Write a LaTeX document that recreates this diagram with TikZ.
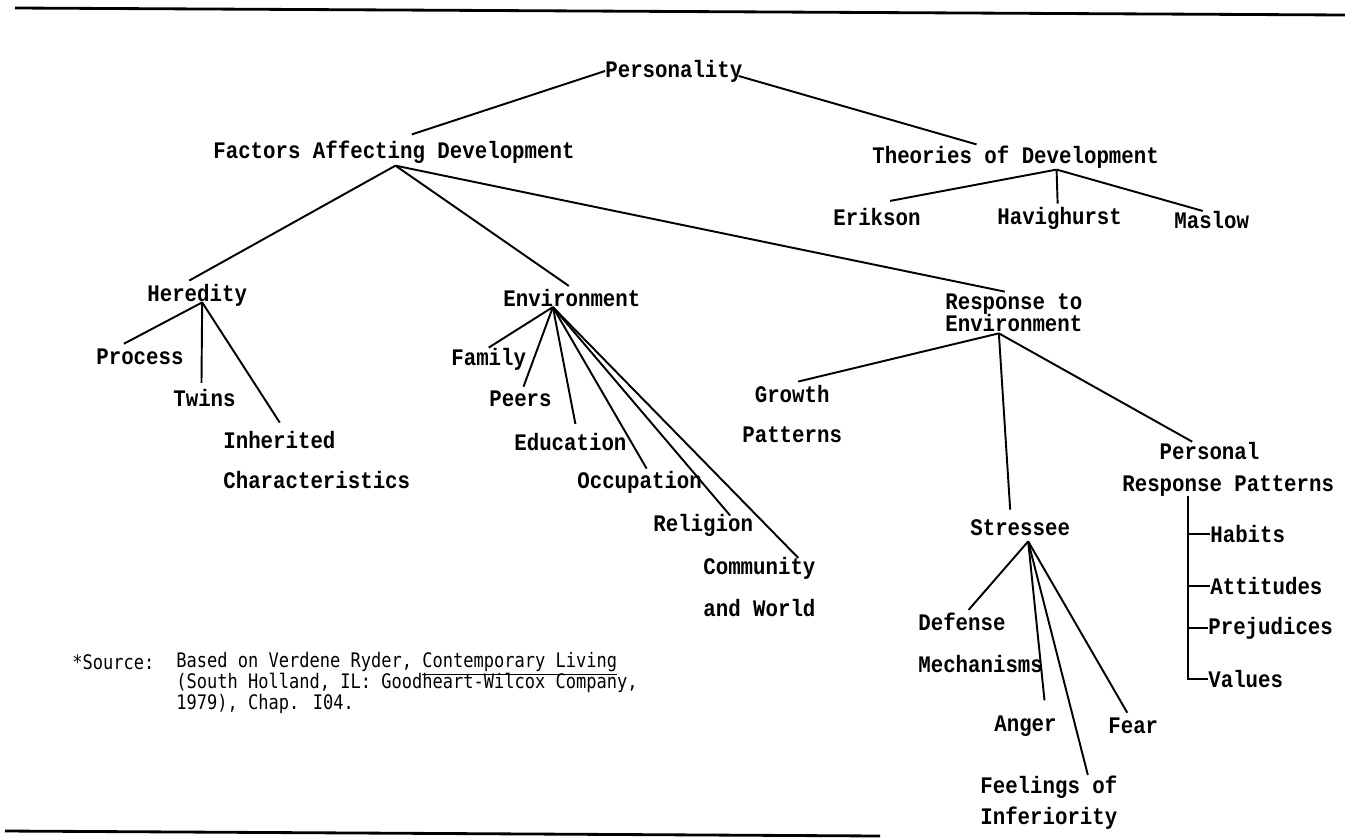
\documentclass[tikz,border=0pt]{standalone}
\usepackage{fontspec}
\usepackage{tikz}
\newfontfamily\chartfont{Liberation Mono}[FakeStretch=0.875]
\newfontfamily\notefont{DejaVu Sans Mono}[FakeStretch=0.85]

\tikzset{
    topic/.style={anchor=west, inner sep=0pt, align=left,
        font=\chartfont\bfseries\fontsize{13.5pt}{14pt}\selectfont},
    note/.style={anchor=west, inner sep=0pt, align=left,
        font=\notefont\fontsize{11.4pt}{11.8pt}\selectfont},
    branch/.style={line width=1.1pt},
    rule/.style={line width=1.6pt}
}

\begin{document}
\begin{tikzpicture}[x=0.02cm, y=-0.02cm]
    \useasboundingbox (0,0) rectangle (1345,839);
    \draw[rule] (15,8) -- (1345,15);
    \draw[rule] (5,831) -- (880,836);

    \node[topic] (pers) at (605,71) {Personality};
    \node[topic] (fac) at (213,152) {Factors Affecting Development};
    \node[topic] (theo) at (872,157) {Theories of Development};
    \node[topic] (erik) at (833,217) {Erikson};
    \node[topic] (havi) at (997,218) {Havighurst};
    \node[topic] (masl) at (1174,220) {Maslow};
    \node[topic] (hered) at (147,295) {Heredity};
    \node[topic] (env) at (503,298) {Environment};
    \node[topic] (resp) at (945,313) {Response to\\[-1.5pt]Environment};
    \node[topic] (proc) at (96,357) {Process};
    \node[topic] (twins) at (173,398) {Twins};
    \node[topic] (inher) at (223,460) {Inherited\\[9.2pt]Characteristics};
    \node[topic] (fam) at (451,359) {Family};
    \node[topic] (peers) at (489,399) {Peers};
    \node[topic] (edu) at (514,442) {Education};
    \node[topic] (occ) at (577,482) {Occupation};
    \node[topic] (rel) at (653,525) {Religion};
    \node[topic] (comm) at (703,587) {Community\\[9.8pt]and World};
    \node[topic, align=center] (growth) at (742,414) {Growth\\[9.2pt]Patterns};
    \node[topic] (pres) at (1122,469) {\phantom{Res}Personal\\[4.1pt]Response Patterns};
    \node[topic] (stress) at (970,528) {Stressee};
    \node[topic] (def) at (918,643) {Defense\\[9.8pt]Mechanisms};
    \node[topic] (anger) at (994,726) {Anger};
    \node[topic] (fear) at (1108,726) {Fear};
    \node[topic] (feel) at (980,803) {Feelings of\\[3.6pt]Inferiority};
    \node[topic] (habits) at (1210,534) {Habits};
    \node[topic] (att) at (1210,586) {Attitudes};
    \node[topic] (prej) at (1208,628) {Prejudices};
    \node[topic] (vals) at (1208,679) {Values};

    \coordinate (facJ) at ([shift={(1.5,2)}]fac.south);
    \coordinate (theoJ) at ([shift={(41,1)}]theo.south);
    \coordinate (heredJ) at ([shift={(5,-4)}]hered.south);
    \coordinate (envJ) at ([shift={(-19,0)}]env.south);
    \coordinate (respJ) at ([shift={(-15,1)}]resp.south);
    \coordinate (stressJ) at ([shift={(8,5)}]stress.south);
    \coordinate (presTop) at ([shift={(-40,0)}]pres.south);

    \draw[branch] (pers.west) -- ([shift={(18,-6)}]fac.north);
    \draw[branch] ([shift={(-4,5)}]pers.east) -- ([shift={(-39,-1)}]theo.north);
    \draw[branch] (facJ) -- ([shift={(-8,-3)}]hered.north);
    \draw[branch] (facJ) -- ([shift={(-3,-3)}]env.north);
    \draw[branch] (facJ) -- ([shift={(-9,-2)}]resp.north);
    \draw[branch] (theoJ) -- ([shift={(13,-7)}]erik.north);
    \draw[branch] (theoJ) -- ([shift={(-2,-3)}]havi.north);
    \draw[branch] (theoJ) -- ([shift={(-9,0)}]masl.north);
    \draw[branch] (heredJ) -- ([shift={(-16,-5)}]proc.north);
    \draw[branch] (heredJ) -- ([shift={(-3,-6)}]twins.north);
    \draw[branch] (heredJ) -- ([shift={(-37,-8)}]inher.north);
    \draw[branch] (envJ) -- (fam.north);
    \draw[branch] (envJ) -- ([shift={(3,-4)}]peers.north);
    \draw[branch] (envJ) -- ([shift={(5,-9)}]edu.north);
    \draw[branch] (envJ) -- ([shift={(7,-2)}]occ.north);
    \draw[branch] (envJ) -- ([shift={(27,2)}]rel.north);
    \draw[branch] (envJ) -- ([shift={(39,1)}]comm.north);
    \draw[branch] (respJ) -- ([shift={(6,-3)}]growth.north);
    \draw[branch] (respJ) -- ([shift={(-10,-10)}]stress.north);
    \draw[branch] (respJ) -- ([shift={(-36,0)}]pres.north);
    \draw[branch] (presTop) |- (vals.west);
    \draw[branch] (habits.west -| presTop) -- (habits.west);
    \draw[branch] (att.west -| presTop) -- (att.west);
    \draw[branch] (prej.west -| presTop) -- (prej.west);
    \draw[branch] (stressJ) -- ([shift={(-12,-3)}]def.north);
    \draw[branch] (stressJ) -- ([shift={(19,-15)}]anger.north);
    \draw[branch] (stressJ) -- ([shift={(39,-1)}]feel.north);
    \draw[branch] (stressJ) -- ([shift={(-6,-5)}]fear.north);

    \node[note] (srclbl) at (72,662) {*Source:};
    \node[note] (srctxt) at (176,683) {Based on Verdene Ryder, \smash{\underline{Contemporary Living}}\\(South Holland, IL: Goodheart-Wilcox Company,\\1979), Chap. I04.};
\end{tikzpicture}
\end{document}
